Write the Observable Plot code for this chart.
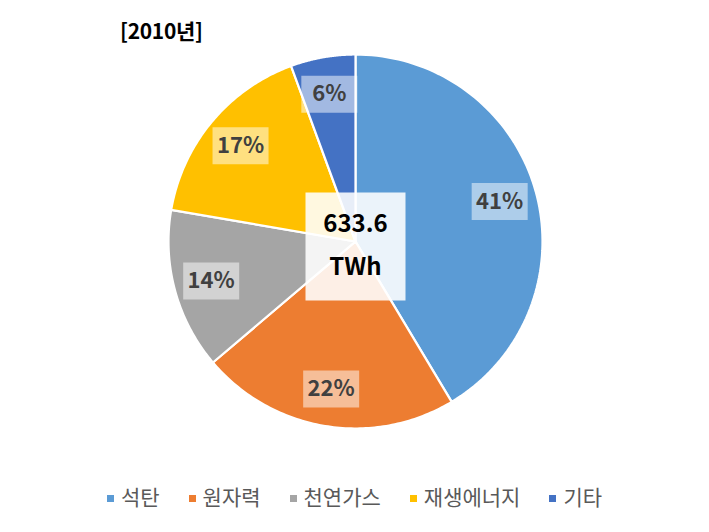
<!DOCTYPE html>
<html><head><meta charset="utf-8">
<script src="https://cdn.jsdelivr.net/npm/d3@7"></script>
<script src="https://cdn.jsdelivr.net/npm/@observablehq/plot@0.6"></script>
<style>
body{margin:0;background:#fff;font-family:"Noto Sans CJK KR","Noto Sans",sans-serif;}
#wrap{width:709px;height:532px;position:relative;overflow:hidden;}
#title{height:50px;box-sizing:border-box;padding:16px 0 0 120px;font-size:21px;font-weight:bold;color:#000;line-height:28px;letter-spacing:-0.3px;}
#legend{display:flex;justify-content:center;align-items:center;gap:29px;margin-top:50px;font-family:"Noto Sans CJK KR",sans-serif;font-size:21px;color:#595959;line-height:28px;}
#legend span.sw{display:inline-block;width:7px;height:7px;margin-right:7px;vertical-align:middle;position:relative;top:-1px;}
svg{overflow:visible;display:block;}
</style></head>
<body><div id="wrap"><div id="title">[2010년]</div><div id="chart"></div><div id="legend"></div></div>
<script>
const categories = ["석탄", "원자력", "천연가스", "재생에너지", "기타"];
const shares = [41.4, 22.4, 13.9, 16.7, 5.6];
const colors = ["#5B9BD5", "#ED7D31", "#A5A5A5", "#FFC000", "#4472C4"];
const total = "633.6";
const unit = "TWh";

const pie = d3.pie().sort(null).value(d => d.value)(categories.map((c, i) => ({name: c, value: shares[i]})));
const slices = pie.map((p, i) => {
  const n = 90;
  const ring = [[0, 0]];
  for (let k = 0; k <= n; k++) {
    const a = p.startAngle + (p.endAngle - p.startAngle) * k / n;
    ring.push([Math.sin(a), -Math.cos(a)]);
  }
  ring.push([0, 0]);
  return {type: "Feature", properties: {name: p.data.name, color: colors[i]}, geometry: {type: "Polygon", coordinates: [ring]}};
});
const labels = pie.map(p => {
  const a = (p.startAngle + p.endAngle) / 2, r = 0.8;
  return {x: r * Math.sin(a), y: -r * Math.cos(a), text: Math.round(p.data.value) + "%"};
});
const rectSymbol = (w, h) => ({draw(ctx) { ctx.moveTo(-w/2, -h/2); ctx.lineTo(w/2, -h/2); ctx.lineTo(w/2, h/2); ctx.lineTo(-w/2, h/2); ctx.closePath(); }});
const center = [{x: 0, y: 0.027}];

const chart = Plot.plot({
  width: 709, height: 382,
  marginLeft: 168, marginRight: 167, marginTop: 4, marginBottom: 4,
  projection: {type: "identity", domain: {type: "MultiPoint", coordinates: [[-1, -1], [1, 1]]}, clip: false},
  style: {fontFamily: "'Noto Sans CJK KR','Noto Sans',sans-serif", overflow: "visible"},
  marks: [
    Plot.geo(slices, {fill: d => d.properties.color, stroke: "white", strokeWidth: 2.2, strokeLinejoin: "round"}),
    Plot.dot(center, {x: "x", y: "y", symbol: rectSymbol(100, 108), r: 1, fill: "white", fillOpacity: 0.88, stroke: null}),
    Plot.text([total], {x: () => 0, y: () => -0.09, text: d => d, fontSize: 24, fontWeight: "bold", fill: "#000"}),
    Plot.text([unit], {x: () => 0, y: () => 0.14, text: d => d, fontSize: 24, fontWeight: "bold", fill: "#000"}),
    Plot.dot(labels, {x: "x", y: "y", symbol: rectSymbol(56, 37), r: 1, fill: "white", fillOpacity: 0.5, stroke: null}),
    Plot.text(labels, {x: "x", y: "y", text: "text", fontSize: 22, fontWeight: "bold", fill: "#404040"})
  ]
});
document.getElementById("chart").appendChild(chart);

const leg = document.getElementById("legend");
categories.forEach((c, i) => {
  const item = document.createElement("div");
  item.innerHTML = `<span class="sw" style="background:${colors[i]}"></span>${c}`;
  leg.appendChild(item);
});
</script></body></html>
